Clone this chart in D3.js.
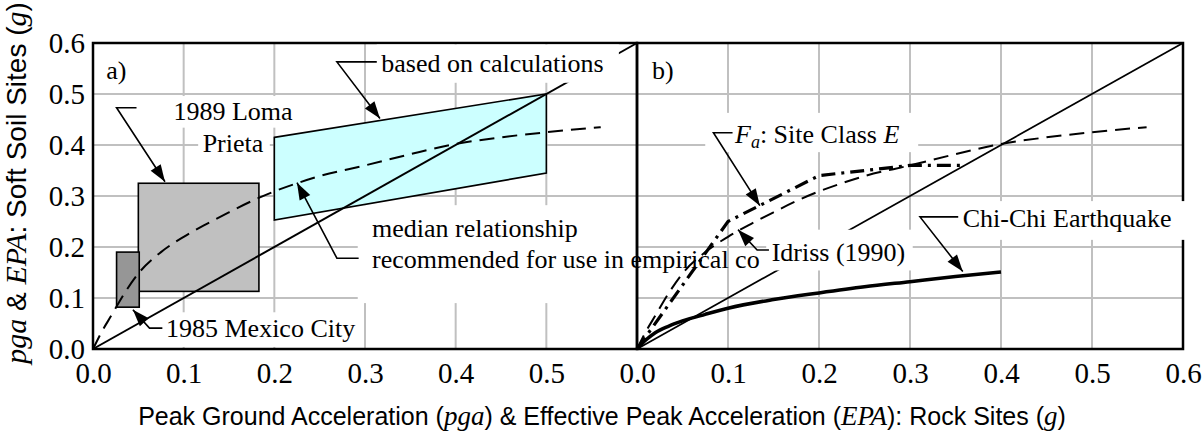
<!DOCTYPE html>
<html><head><meta charset="utf-8">
<script src="https://cdn.jsdelivr.net/npm/d3@7"></script>
<style>body{margin:0;background:#fff}</style>
</head><body>
<svg id="c" width="1204" height="432"></svg>
<script>
// ---------------- data ----------------
const tickValsLeft = [0, 0.1, 0.2, 0.3, 0.4, 0.5];
const tickLabelsLeft = ["0.0", "0.1", "0.2", "0.3", "0.4", "0.5"];
const tickValsRight = [0, 0.1, 0.2, 0.3, 0.4, 0.5, 0.6];
const tickLabelsRight = ["0.0", "0.1", "0.2", "0.3", "0.4", "0.5", "0.6"];
const tickValsY = [0, 0.1, 0.2, 0.3, 0.4, 0.5, 0.6];
const tickLabelsY = ["0.0", "0.1", "0.2", "0.3", "0.4", "0.5", "0.6"];
const gridVals = [0.1, 0.2, 0.3, 0.4, 0.5];

// 1:1 line
const equalRock = [0, 0.6];
const equalSoil = [0, 0.6];
// Idriss (1990) median relationship (dashed)
const idrissRock = [0, 0.01, 0.02, 0.035, 0.05, 0.075, 0.1, 0.125, 0.15, 0.175, 0.2, 0.225, 0.25, 0.3, 0.35, 0.4, 0.45, 0.5, 0.56];
const idrissSoil = [0, 0.035, 0.065, 0.11, 0.148, 0.19, 0.22, 0.245, 0.268, 0.29, 0.309, 0.325, 0.339, 0.36, 0.382, 0.402, 0.415, 0.425, 0.435];
// based on calculations band (cyan)
const calcRock = [0.2, 0.5, 0.5, 0.2];
const calcSoil = [0.415, 0.5, 0.345, 0.253];
// 1989 Loma Prieta box
const lomaRock = [0.05, 0.183];
const lomaSoil = [0.113, 0.325];
// 1985 Mexico City box
const mexicoRock = [0.026, 0.051];
const mexicoSoil = [0.082, 0.19];
// Fa: Site Class E (dash-dot)
const faRock = [0, 0.1, 0.2, 0.3, 0.355];
const faSoil = [0, 0.25, 0.34, 0.36, 0.36];
// Chi-Chi earthquake (thick)
const chichiRock = [0, 0.01, 0.02, 0.035, 0.05, 0.075, 0.1, 0.15, 0.2, 0.25, 0.3, 0.35, 0.4];
const chichiSoil = [0, 0.018, 0.032, 0.045, 0.055, 0.068, 0.08, 0.097, 0.11, 0.122, 0.132, 0.142, 0.151];

// ---------------- setup ----------------
const SERIF = "'Liberation Serif','Times New Roman',serif";
const SANS = "'Liberation Sans',Arial,sans-serif";
const svg = d3.select("#c");
const xL = d3.scaleLinear().domain([0, 0.6]).range([93, 637]);
const xR = d3.scaleLinear().domain([0, 0.6]).range([637, 1183]);
const y = d3.scaleLinear().domain([0, 0.6]).range([349, 43]);
const zip = (a, b) => a.map((v, i) => [v, b[i]]);

// ---------------- grid ----------------
const gGrid = svg.append("g").attr("stroke", "#c0c0c0").attr("stroke-width", 2);
[xL, xR].forEach(x => {
  gGrid.selectAll(null).data(gridVals).join("line")
    .attr("x1", d => x(d)).attr("x2", d => x(d)).attr("y1", y(0)).attr("y2", y(0.6));
  gGrid.selectAll(null).data(gridVals).join("line")
    .attr("x1", x(0)).attr("x2", x(0.6)).attr("y1", d => y(d)).attr("y2", d => y(d));
});

function box(g, x, x0, x1, y0, y1) {
  g.append("rect").attr("x", x(x0)).attr("y", y(y1))
    .attr("width", x(x1) - x(x0)).attr("height", y(y0) - y(y1)).attr("fill", "#fff");
}
// under boxes (label backgrounds)
const gUnder = svg.append("g");
box(gUnder, xL, 0.08, 0.225, 0.434, 0.496);
box(gUnder, xL, 0.116, 0.195, 0.372, 0.434);
box(gUnder, xL, 0.292, 0.6, 0.09, 0.282);
box(gUnder, xL, 0.074, 0.296, 0.004, 0.072);
box(gUnder, xR, 0.075, 0.309, 0.386, 0.463);

// ---------------- data marks ----------------
const gData = svg.append("g");
gData.append("path")
  .attr("d", d3.line().x(d => xL(d[0])).y(d => y(d[1]))(zip(calcRock, calcSoil)) + "Z")
  .attr("fill", "#ccffff").attr("stroke", "#000").attr("stroke-width", 1.6);
gData.append("rect").attr("x", xL(lomaRock[0])).attr("y", y(lomaSoil[1]))
  .attr("width", xL(lomaRock[1]) - xL(lomaRock[0])).attr("height", y(lomaSoil[0]) - y(lomaSoil[1]))
  .attr("fill", "#c0c0c0").attr("stroke", "#000").attr("stroke-width", 1.6);
gData.append("rect").attr("x", xL(mexicoRock[0])).attr("y", y(mexicoSoil[1]))
  .attr("width", xL(mexicoRock[1]) - xL(mexicoRock[0])).attr("height", y(mexicoSoil[0]) - y(mexicoSoil[1]))
  .attr("fill", "#969696").attr("stroke", "#000").attr("stroke-width", 1.6);

const lineL = d3.line().x(d => xL(d[0])).y(d => y(d[1]));
const lineR = d3.line().x(d => xR(d[0])).y(d => y(d[1]));
const curveL = d3.line().x(d => xL(d[0])).y(d => y(d[1])).curve(d3.curveMonotoneX);
const curveR = d3.line().x(d => xR(d[0])).y(d => y(d[1])).curve(d3.curveMonotoneX);

gData.append("path").attr("d", lineL(zip(equalRock, equalSoil)))
  .attr("fill", "none").attr("stroke", "#000").attr("stroke-width", 2);
gData.append("path").attr("d", curveL(zip(idrissRock, idrissSoil)))
  .attr("fill", "none").attr("stroke", "#000").attr("stroke-width", 2).attr("stroke-dasharray", "15,8");
gData.append("path").attr("d", lineR(zip(equalRock, equalSoil)))
  .attr("fill", "none").attr("stroke", "#000").attr("stroke-width", 1.7);
gData.append("path").attr("d", curveR(zip(idrissRock, idrissSoil)))
  .attr("fill", "none").attr("stroke", "#000").attr("stroke-width", 2).attr("stroke-dasharray", "15,8");
gData.append("path").attr("d", lineR(zip(faRock, faSoil)))
  .attr("fill", "none").attr("stroke", "#000").attr("stroke-width", 3.2).attr("stroke-dasharray", "14,6,3,6");
gData.append("path").attr("d", curveR(zip(chichiRock, chichiSoil)))
  .attr("fill", "none").attr("stroke", "#000").attr("stroke-width", 3.5);

// ---------------- frames ----------------
[xL, xR].forEach(x => {
  svg.append("rect").attr("x", x(0)).attr("y", y(0.6))
    .attr("width", x(0.6) - x(0)).attr("height", y(0) - y(0.6))
    .attr("fill", "none").attr("stroke", "#000").attr("stroke-width", 2.5);
});

// ---------------- axes ----------------
function styleAxis(g) {
  g.select(".domain").remove();
  g.attr("font-family", SERIF).attr("font-size", 29);
  g.selectAll("text").attr("fill", "#000");
}
svg.append("g").attr("transform", `translate(0,${y(0)})`)
  .call(d3.axisBottom(xL).tickValues(tickValsLeft).tickFormat((d, i) => tickLabelsLeft[i]).tickSize(0).tickPadding(13))
  .call(styleAxis);
svg.append("g").attr("transform", `translate(0,${y(0)})`)
  .call(d3.axisBottom(xR).tickValues(tickValsRight).tickFormat((d, i) => tickLabelsRight[i]).tickSize(0).tickPadding(13))
  .call(styleAxis);
svg.append("g").attr("transform", `translate(${xL(0)},0)`)
  .call(d3.axisLeft(y).tickValues(tickValsY).tickFormat((d, i) => tickLabelsY[i]).tickSize(0).tickPadding(8))
  .call(styleAxis);

// axis titles
const xt = svg.append("text").attr("x", 602).attr("y", 425).attr("text-anchor", "middle")
  .attr("font-family", SANS).attr("font-size", 25).attr("fill", "#000");
[["Peak Ground Acceleration (", 0], ["pga", 1], [") & Effective Peak Acceleration (", 0], ["EPA", 1], ["): Rock Sites (", 0], ["g", 1], [")", 0]]
  .forEach(([t, it]) => {
    const s = xt.append("tspan").text(t);
    if (it) s.attr("font-family", SERIF).attr("font-style", "italic").attr("font-size", 27);
  });
const yt = svg.append("text").attr("transform", "translate(26,183) rotate(-90)").attr("text-anchor", "middle")
  .attr("font-family", SANS).attr("font-size", 28).attr("fill", "#000");
[["pga", 1], [" & ", 0], ["EPA", 1], [": Soft Soil Sites (", 0], ["g", 1], [")", 0]]
  .forEach(([t, it]) => {
    const s = yt.append("tspan").text(t);
    if (it) s.attr("font-family", SERIF).attr("font-style", "italic").attr("font-size", 30);
  });

// ---------------- annotations ----------------
function label(g, x, xv, yv, txt, anchor) {
  return g.append("text").attr("x", x(xv)).attr("y", y(yv)).attr("text-anchor", anchor || "start")
    .attr("font-family", SERIF).attr("font-size", 26).attr("fill", "#000").text(txt);
}
function leader(g, x, pts) {
  const p = pts.map(d => [x(d[0]), y(d[1])]);
  g.append("path").attr("d", d3.line()(p)).attr("fill", "none").attr("stroke", "#000").attr("stroke-width", 1.6);
  const [ax, ay] = p[p.length - 2], [bx, by] = p[p.length - 1];
  const a = Math.atan2(by - ay, bx - ax), L = 17, w = 6;
  const bxp = bx - L * Math.cos(a), byp = by - L * Math.sin(a);
  const tri = [[bx, by], [bxp + w * Math.sin(a), byp - w * Math.cos(a)], [bxp - w * Math.sin(a), byp + w * Math.cos(a)]];
  g.append("path").attr("d", d3.line()(tri) + "Z").attr("fill", "#000");
}
const gAnn = svg.append("g");
label(gAnn, xL, 0.0145, 0.529, "a)");
label(gAnn, xR, 0.0165, 0.529, "b)");
label(gAnn, xL, 0.1544, 0.449, "1989 Loma", "middle");
label(gAnn, xL, 0.1544, 0.386, "Prieta", "middle");
leader(gAnn, xL, [[0.048, 0.473], [0.026, 0.473], [0.0794, 0.328]]);
label(gAnn, xL, 0.3077, 0.2196, "median relationship");
label(gAnn, xL, 0.3077, 0.1588, "recommended for use in empirical co");
leader(gAnn, xL, [[0.293, 0.178], [0.269, 0.178], [0.225, 0.326]]);
label(gAnn, xL, 0.0805, 0.0235, "1985 Mexico City");
leader(gAnn, xL, [[0.0765, 0.041], [0.0623, 0.041], [0.044, 0.077]]);
const fa = label(gAnn, xR, 0.1077, 0.404, "");
fa.append("tspan").attr("font-style", "italic").text("F");
fa.append("tspan").attr("font-style", "italic").attr("font-size", 18).attr("dy", 5).text("a");
fa.append("tspan").attr("dy", -5).text(": Site Class ");
fa.append("tspan").attr("font-style", "italic").text("E");
leader(gAnn, xR, [[0.105, 0.424], [0.084, 0.424], [0.135, 0.281]]);

// over boxes and their labels
const gOver = svg.append("g");
box(gOver, xL, 0.313, 0.58, 0.522, 0.597);
label(gOver, xL, 0.318, 0.543, "based on calculations");
leader(gOver, xL, [[0.313, 0.563], [0.269, 0.563], [0.3165, 0.452]]);
box(gOver, xR, 0.142, 0.303, 0.154, 0.234);
label(gOver, xR, 0.148, 0.1725, "Idriss (1990)");
leader(gOver, xR, [[0.145, 0.194], [0.132, 0.194], [0.111, 0.234]]);
box(gOver, xR, 0.307, 0.606, 0.214, 0.29);
label(gOver, xR, 0.358, 0.239, "Chi-Chi Earthquake");
leader(gOver, xR, [[0.353, 0.259], [0.311, 0.259], [0.358, 0.152]]);
</script>
</body></html>
